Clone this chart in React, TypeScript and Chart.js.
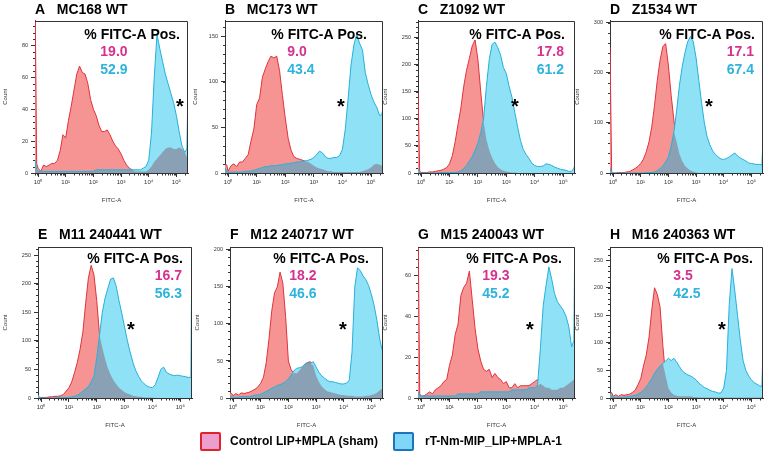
import React, { useEffect, useRef } from 'react';
import { Chart, registerables } from 'chart.js';

Chart.register(...registerables);

const FONT = "'Liberation Sans', Arial, Helvetica, sans-serif";

// Shared bin positions on the FITC-A axis (log10 units)
const X = [-0.11, -0.05,
  0, 0.1, 0.2, 0.3, 0.4, 0.5, 0.6, 0.7, 0.8, 0.9,
  1, 1.1, 1.2, 1.3, 1.4, 1.5, 1.6, 1.7, 1.8, 1.9,
  2, 2.1, 2.2, 2.3, 2.4, 2.5, 2.6, 2.7, 2.8, 2.9,
  3, 3.1, 3.2, 3.3, 3.4, 3.5, 3.6, 3.7, 3.8, 3.9,
  4, 4.1, 4.2, 4.3, 4.4, 4.5, 4.6, 4.7, 4.8, 4.9,
  5, 5.1, 5.2, 5.3, 5.38, 5.42];

const X_TICKS = [0, 1, 2, 3, 4, 5];
const X_TICK_LABELS = ['10⁰', '10¹', '10²', '10³', '10⁴', '10⁵'];

// Counts: Control LIP+MPLA (sham) = RED, rT-Nm-MIP_LIP+MPLA-1 = BLUE
const A_RED = [120, 6,
  3, 1, 5, 4, 5, 6, 6, 8, 14, 24,
  22, 33, 42, 52, 62, 67, 63, 62, 56, 46,
  40, 36, 30, 26, 26, 27, 24, 20, 17, 15,
  12, 8, 5, 3, 2, 1, 1, 1, 1, 1,
  2, 4, 7, 9, 11, 13, 15, 16, 16, 15,
  15, 16, 15, 13, 10, 10];
const A_BLUE = [8, 2,
  1, 1, 1, 1, 1, 1, 1, 1, 1, 1,
  1, 1, 1, 1, 1, 1, 1, 1, 1, 1,
  1, 2, 2, 2, 2, 2, 2, 2, 2, 2,
  2, 2, 2, 2, 2, 2, 2, 2, 3, 4,
  8, 25, 60, 87, 78, 70, 62, 56, 50, 44,
  36, 26, 17, 13, 15, 55];

const B_RED = [9, 9,
  2, 8, 10, 7, 12, 12, 16, 20, 35, 48,
  75, 82, 105, 114, 122, 128, 126, 128, 112, 85,
  60, 38, 25, 18, 16, 15, 14, 13, 12, 10,
  8, 6, 5, 4, 3, 2, 2, 1, 1, 1,
  1, 1, 1, 1, 1, 1, 1, 2, 3, 4,
  6, 9, 10, 9, 8, 9];
const B_BLUE = [6, 2,
  1, 1, 1, 1, 1, 1, 2, 2, 2, 3,
  4, 5, 6, 7, 7, 8, 8, 8, 9, 9,
  10, 10, 11, 11, 12, 12, 13, 13, 14, 15,
  17, 20, 24, 22, 18, 16, 16, 17, 17, 19,
  26, 48, 82, 118, 140, 152, 142, 135, 110, 97,
  86, 78, 72, 63, 64, 72];

const C_RED = [150, 3,
  1, 1, 1, 2, 2, 3, 4, 5, 7, 10,
  17, 32, 58, 90, 120, 160, 190, 212, 235, 246,
  210, 150, 95, 62, 42, 28, 18, 11, 7, 4,
  3, 2, 1, 1, 0, 0, 0, 0, 0, 0,
  0, 0, 0, 0, 0, 0, 0, 0, 0, 0,
  0, 0, 0, 0, 0, 2];
const C_BLUE = [8, 1,
  0, 0, 0, 0, 0, 0, 0, 1, 1, 1,
  1, 1, 1, 2, 4, 8, 14, 22, 30, 42,
  55, 75, 100, 160, 210, 238, 242, 232, 218, 195,
  184, 160, 140, 112, 85, 60, 43, 34, 27, 18,
  14, 12, 12, 13, 17, 16, 14, 11, 9, 7,
  6, 5, 3, 3, 9, 15];

const D_RED = [250, 2,
  0, 0, 1, 1, 1, 2, 3, 6, 9, 13,
  19, 28, 42, 62, 92, 135, 185, 225, 252, 258,
  215, 155, 105, 62, 38, 24, 14, 9, 5, 3,
  1, 0, 0, 0, 0, 0, 0, 0, 0, 0,
  0, 0, 0, 0, 0, 0, 0, 0, 0, 0,
  0, 0, 0, 0, 0, 1];
const D_BLUE = [10, 1,
  0, 0, 0, 0, 0, 0, 0, 0, 0, 0,
  0, 0, 1, 1, 1, 2, 5, 9, 14, 22,
  32, 53, 82, 125, 175, 212, 240, 262, 272, 262,
  230, 185, 140, 100, 72, 56, 44, 37, 32, 28,
  27, 29, 32, 36, 40, 34, 30, 27, 24, 20,
  19, 18, 17, 17, 16, 70];

const E_RED = [3, 1,
  1, 1, 1, 2, 2, 3, 3, 4, 6, 12,
  18, 28, 44, 62, 85, 115, 165, 210, 232, 215,
  170, 110, 88, 68, 52, 40, 31, 24, 18, 14,
  10, 8, 6, 4, 3, 2, 2, 1, 1, 1,
  1, 0, 0, 0, 0, 0, 0, 0, 0, 0,
  0, 0, 0, 0, 0, 0];
const E_BLUE = [5, 1,
  0, 0, 0, 0, 0, 0, 1, 1, 1, 1,
  1, 2, 3, 5, 8, 12, 16, 20, 28, 38,
  70, 110, 150, 175, 192, 208, 210, 195, 170, 148,
  124, 100, 80, 62, 48, 38, 30, 25, 21, 19,
  18, 23, 36, 50, 54, 45, 42, 40, 39, 40,
  39, 38, 37, 36, 36, 300];

const F_RED = [7, 6,
  3, 6, 4, 7, 6, 7, 8, 10, 12, 15,
  20, 28, 48, 80, 118, 142, 150, 170, 155, 110,
  50, 38, 34, 33, 37, 42, 46, 48, 49, 44,
  30, 22, 16, 12, 9, 8, 7, 6, 5, 4,
  4, 3, 3, 3, 2, 2, 2, 2, 3, 3,
  4, 5, 7, 10, 12, 14];
const F_BLUE = [4, 1,
  1, 1, 1, 2, 2, 2, 2, 3, 4, 4,
  5, 7, 9, 11, 13, 15, 17, 18, 20, 22,
  26, 31, 37, 40, 41, 42, 46, 47, 47, 49,
  42, 35, 30, 27, 24, 22, 22, 21, 20, 19,
  19, 20, 24, 62, 150, 176, 172, 165, 160, 152,
  140, 125, 105, 80, 66, 64];

const G_RED = [90, 2,
  1, 1, 2, 3, 2, 4, 5, 6, 8, 9,
  16, 21, 31, 36, 50, 54, 56, 62, 48, 34,
  24, 18, 14, 13, 14, 10, 12, 10, 9, 7,
  8, 5, 5, 7, 5, 6, 6, 6, 6, 7,
  8, 9, 7, 6, 5, 5, 4, 4, 4, 5,
  5, 6, 7, 8, 9, 9];
const G_BLUE = [3, 1,
  1, 1, 1, 1, 1, 1, 1, 1, 1, 1,
  1, 1, 1, 2, 2, 2, 2, 2, 2, 2,
  2, 3, 3, 3, 3, 3, 3, 3, 3, 3,
  3, 3, 4, 4, 4, 4, 4, 4, 5, 5,
  5, 6, 24, 45, 55, 64, 58, 51, 47, 45,
  43, 40, 35, 25, 28, 90];

const H_RED = [8, 10,
  3, 6, 3, 6, 5, 6, 7, 10, 14, 24,
  35, 58, 78, 110, 160, 200, 188, 165, 95, 40,
  18, 10, 6, 4, 3, 3, 3, 3, 3, 2,
  2, 1, 1, 1, 1, 1, 1, 1, 1, 1,
  1, 1, 1, 1, 1, 1, 1, 1, 1, 1,
  1, 1, 1, 1, 2, 3];
const H_BLUE = [10, 1,
  1, 1, 1, 1, 2, 2, 3, 4, 5, 7,
  10, 14, 20, 27, 35, 45, 52, 58, 63, 67,
  72, 68, 72, 65, 57, 49, 45, 42, 40, 37,
  33, 27, 23, 19, 17, 14, 12, 11, 9, 9,
  18, 50, 170, 235, 195, 150, 105, 68, 50, 40,
  33, 28, 25, 22, 21, 90];

// Y-axis ticks per panel
const A_YTICKS = [0, 20, 40, 60, 80];
const B_YTICKS = [0, 50, 100, 150];
const C_YTICKS = [0, 50, 100, 150, 200, 250];
const D_YTICKS = [0, 100, 200, 300];
const E_YTICKS = [0, 50, 100, 150, 200, 250];
const F_YTICKS = [0, 50, 100, 150, 200];
const G_YTICKS = [0, 20, 40, 60];
const H_YTICKS = [0, 50, 100, 150, 200, 250];

const Y_MAX = { A: 95.6, B: 167, C: 282, D: 304, E: 264, F: 204, G: 73.7, H: 274 };

// % FITC-A positive values [sham, rT-Nm-MIP]
const PCT = {
  A: ['19.0', '52.9'], B: ['9.0', '43.4'], C: ['17.8', '61.2'], D: ['17.1', '67.4'],
  E: ['16.7', '56.3'], F: ['18.2', '46.6'], G: ['19.3', '45.2'], H: ['3.5', '42.5'],
};

const TITLES = {
  A: 'A   MC168 WT', B: 'B   MC173 WT', C: 'C   Z1092 WT', D: 'D   Z1534 WT',
  E: 'E   M11 240441 WT', F: 'F   M12 240717 WT', G: 'G   M15 240043 WT', H: 'H   M16 240363 WT',
};

const RED_FILL = '#f69494';
const RED_LINE = '#e1323c';
const BLUE_FILL = '#8fe1f5';
const BLUE_LINE = '#26b0da';
const OVER_FILL = '#8aa1b5';
const MAGENTA = '#d6318f';
const CYAN_TXT = '#2db3dc';
const AXIS = '#333';

// layout: canvas box, y-axis width, right pad, title paddings, label placement
const ROW1 = { cy: 0, ch: 208, tTop: 2, tBot: 1.7, textDy: 18.5, starDy: 82.5 };
const ROW2 = { cy: 217, ch: 216, tTop: 9.6, tBot: 3.6, textDy: 16, starDy: 79 };

const PANELS = [
  { k: 'A', red: A_RED, blue: A_BLUE, yt: A_YTICKS, row: ROW1, cx: 0, cw: 192, yw: 35, pr: 4, pctR: 8, valAlign: 'left', starDx: 145 },
  { k: 'B', red: B_RED, blue: B_BLUE, yt: B_YTICKS, row: ROW1, cx: 190, cw: 197, yw: 35, pr: 4, pctR: 16, valAlign: 'left', starDx: 116 },
  { k: 'C', red: C_RED, blue: C_BLUE, yt: C_YTICKS, row: ROW1, cx: 380, cw: 199, yw: 38, pr: 4, pctR: 10, valAlign: 'right', starDx: 97 },
  { k: 'D', red: D_RED, blue: D_BLUE, yt: D_YTICKS, row: ROW1, cx: 572, cw: 193, yw: 38, pr: 2, pctR: 8, valAlign: 'right', starDx: 99 },
  { k: 'E', red: E_RED, blue: E_BLUE, yt: E_YTICKS, row: ROW2, cx: 0, cw: 196, yw: 38, pr: 4, pctR: 9, valAlign: 'right', starDx: 93 },
  { k: 'F', red: F_RED, blue: F_BLUE, yt: F_YTICKS, row: ROW2, cx: 192, cw: 195, yw: 38, pr: 4, pctR: 14, valAlign: 'left', starDx: 113 },
  { k: 'G', red: G_RED, blue: G_BLUE, yt: G_YTICKS, row: ROW2, cx: 380, cw: 199, yw: 38, pr: 4, pctR: 13, valAlign: 'left', starDx: 112 },
  { k: 'H', red: H_RED, blue: H_BLUE, yt: H_YTICKS, row: ROW2, cx: 572, cw: 193, yw: 38, pr: 2, pctR: 10, valAlign: 'left', starDx: 112 },
];

function Panel({ p }: { p: any }) {
  const ref = useRef<HTMLCanvasElement | null>(null);
  const { cy, ch } = p.row;
  useEffect(() => {
    if (!ref.current) return;
    const pts = (arr: number[]) => X.map((x, i) => ({ x, y: arr[i] }));
    const overlap = p.red.map((r: number, i: number) => Math.min(r, p.blue[i]));
    const pct = PCT[p.k as keyof typeof PCT];

    const deco = {
      id: 'deco',
      afterDraw(chart: any) {
        const { ctx, chartArea: a, scales } = chart;
        const xs = scales.x;
        const ys = scales.y;
        ctx.save();
        // frame top and right
        ctx.strokeStyle = AXIS;
        ctx.lineWidth = 1;
        ctx.beginPath();
        const t = Math.round(a.top) + 0.5;
        const r = Math.round(a.right) - 0.5;
        ctx.moveTo(a.left, t);
        ctx.lineTo(r, t);
        ctx.lineTo(r, a.bottom);
        ctx.stroke();
        // minor log ticks on x
        ctx.beginPath();
        for (let d = -1; d <= 5; d++) {
          for (let m = 2; m <= 9; m++) {
            const v = d + Math.log10(m);
            if (v < xs.min || v > xs.max) continue;
            const px = Math.round(xs.getPixelForValue(v)) + 0.5;
            ctx.moveTo(px, a.bottom);
            ctx.lineTo(px, a.bottom + 2.5);
          }
        }
        // minor ticks on y
        const step = p.yt[1] / 5;
        for (let v = 0; v <= ys.max; v += step) {
          const py = Math.round(ys.getPixelForValue(v)) + 0.5;
          ctx.moveTo(a.left, py);
          ctx.lineTo(a.left - 2, py);
        }
        ctx.stroke();

        // annotation text
        const tr = a.right - p.pctR;
        const tb = a.top + p.row.textDy;
        ctx.font = `bold 14px ${FONT}`;
        ctx.textBaseline = 'alphabetic';
        ctx.fillStyle = '#000';
        ctx.textAlign = 'right';
        const head = '% FITC-A Pos.';
        ctx.fillText(head, tr, tb);
        const w = ctx.measureText(head).width;
        let vx;
        if (p.valAlign === 'left') {
          ctx.textAlign = 'left';
          vx = tr - w + 16;
        } else {
          ctx.textAlign = 'right';
          vx = tr - 1;
        }
        ctx.fillStyle = MAGENTA;
        ctx.fillText(pct[0], vx, tb + 16.5);
        ctx.fillStyle = CYAN_TXT;
        ctx.fillText(pct[1], vx, tb + 34.5);
        // significance star
        ctx.font = `bold 20px ${FONT}`;
        ctx.textAlign = 'center';
        ctx.fillStyle = '#000';
        ctx.fillText('*', a.left + p.starDx, a.top + p.row.starDy + 10);
        ctx.restore();
      },
    };

    const chart = new Chart(ref.current, {
      type: 'line',
      data: {
        datasets: [
          { label: 'Control LIP+MPLA (sham)', data: pts(p.red), borderColor: RED_LINE, backgroundColor: RED_FILL, fill: 'origin', borderWidth: 1, pointRadius: 0, tension: 0, order: 4 },
          { label: 'rT-Nm-MIP_LIP+MPLA-1 fill', data: pts(p.blue), borderColor: 'rgba(0,0,0,0)', backgroundColor: BLUE_FILL, fill: 'origin', borderWidth: 0, pointRadius: 0, tension: 0, order: 3 },
          { label: 'overlap', data: pts(overlap), borderColor: 'rgba(0,0,0,0)', backgroundColor: OVER_FILL, fill: 'origin', borderWidth: 0, pointRadius: 0, tension: 0, order: 2 },
          { label: 'rT-Nm-MIP_LIP+MPLA-1', data: pts(p.blue), borderColor: BLUE_LINE, backgroundColor: 'rgba(0,0,0,0)', fill: false, borderWidth: 1, pointRadius: 0, tension: 0, order: 1 },
        ],
      },
      options: {
        animation: false,
        responsive: false,
        devicePixelRatio: 1,
        events: [],
        layout: { padding: { left: 0, right: p.pr, top: 0, bottom: 0 } },
        plugins: {
          legend: { display: false },
          tooltip: { enabled: false },
          title: {
            display: true,
            text: TITLES[p.k as keyof typeof TITLES],
            align: 'start',
            fullSize: false,
            color: '#000',
            font: { family: FONT, size: 14, weight: 'bold', lineHeight: 1.2 },
            padding: { top: p.row.tTop, bottom: p.row.tBot },
          },
        },
        scales: {
          x: {
            type: 'linear',
            min: -0.11,
            max: 5.42,
            z: 1,
            afterBuildTicks: (s: any) => { s.ticks = X_TICKS.map((v) => ({ value: v })); },
            afterFit: (s: any) => { s.height = 35; },
            ticks: {
              autoSkip: false,
              maxRotation: 0,
              padding: 1.5,
              color: AXIS,
              font: { family: FONT, size: 6 },
              callback: (v: any) => X_TICK_LABELS[X_TICKS.indexOf(Number(v))] ?? '',
            },
            grid: { display: true, drawOnChartArea: false, drawTicks: true, tickLength: 4, color: AXIS },
            border: { display: true, color: AXIS, width: 1 },
            title: { display: true, text: 'FITC-A', color: AXIS, font: { family: FONT, size: 6, lineHeight: 1.2 }, padding: { top: 0, bottom: 4.4 } },
          },
          y: {
            type: 'linear',
            min: 0,
            max: Y_MAX[p.k as keyof typeof Y_MAX],
            z: 1,
            afterBuildTicks: (s: any) => { s.ticks = p.yt.map((v: number) => ({ value: v })); },
            afterFit: (s: any) => { s.width = p.yw; },
            ticks: { padding: 3, color: AXIS, font: { family: FONT, size: 5.5 } },
            grid: { display: true, drawOnChartArea: false, drawTicks: true, tickLength: 4, color: AXIS },
            border: { display: true, color: AXIS, width: 1 },
            title: { display: true, text: 'Count', color: AXIS, font: { family: FONT, size: 6, lineHeight: 1.2 }, padding: { top: 1.6, bottom: 0 } },
          },
        },
      },
      plugins: [deco],
    } as any);
    return () => chart.destroy();
  }, []);
  return (
    <canvas
      ref={ref}
      width={p.cw}
      height={ch}
      style={{ position: 'absolute', left: p.cx, top: cy, width: p.cw, height: ch }}
    />
  );
}

export default function App() {
  const legendText = { position: 'absolute' as const, font: `bold 12px ${FONT}`, color: '#000', lineHeight: '14px' };
  return (
    <div style={{ position: 'absolute', left: 0, top: 0, width: 765, height: 458, background: '#fff', overflow: 'hidden' }}>
      {PANELS.map((p) => <Panel key={p.k} p={p} />)}
      <div style={{ position: 'absolute', left: 200, top: 432, width: 17, height: 15, background: '#ee9dcf', border: '2px solid #e3212b', borderRadius: 2 }} />
      <div style={{ ...legendText, left: 230, top: 434 }}>Control LIP+MPLA (sham)</div>
      <div style={{ position: 'absolute', left: 393, top: 432, width: 17, height: 15, background: '#7fd6f6', border: '2px solid #1b76bd', borderRadius: 2 }} />
      <div style={{ ...legendText, left: 425, top: 434 }}>rT-Nm-MIP_LIP+MPLA-1</div>
    </div>
  );
}
